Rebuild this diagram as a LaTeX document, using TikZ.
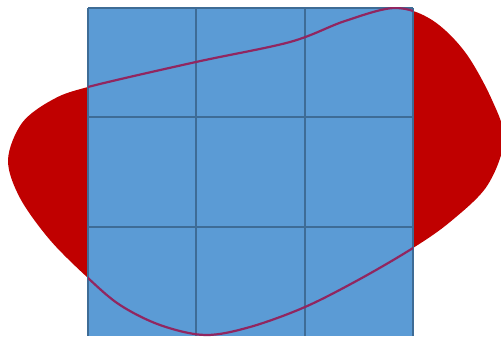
\documentclass[tikz,border=0pt]{standalone}
\usepackage{xcolor}
\definecolor{azulQ}{RGB}{91,155,213}
\definecolor{azulL}{RGB}{62,108,150}
\definecolor{vermelho}{RGB}{192,0,0}
\definecolor{contorno}{RGB}{145,38,96}
\usepackage{tikz}

\begin{document}
\begin{tikzpicture}[x=0.5pt,y=-0.5pt,
            mancha/.style={fill=vermelho},
            grelha/.style={draw=azulL,line width=1pt},
            borda/.style={draw=contorno,line width=1.1pt}
            ]
            \clip (0,0) rectangle (501,336);
            % forma vermelha
            \def\forma{plot[smooth cycle,tension=0.55] coordinates {
                (88,87) (196,62) (290,42) (345,21) (395,8) (432,20)
                (465,52) (492,100) (504,140) (487,186) (450,222) (413,248)
                (360,279) (305,307) (250,327) (205,335) (160,325)
                (120,305) (88,278) (50,240) (20,198) (8,160) (22,123) (52,100)}}
            \fill[mancha] \forma;
            % quadrado 3x3
            \fill[azulQ] (88,8) rectangle (413,336);
            \foreach \x in {88,196.3,304.7,413}
              \draw[grelha] (\x,8) -- (\x,336);
            \foreach \y in {8,117.3,226.7}
              \draw[grelha] (88,\y) -- (413,\y);
            % contorno por cima
            \begin{scope}
              \clip (88,8) rectangle (413,336);
              \draw[borda] \forma;
            \end{scope}
          \end{tikzpicture}
\end{document}
